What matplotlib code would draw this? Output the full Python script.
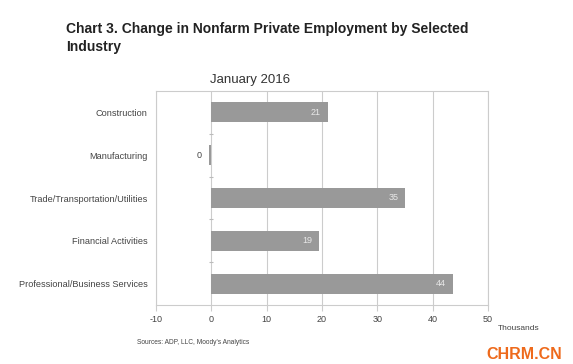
import matplotlib.pyplot as plt
import numpy as np

categories = ["Construction", "Manufacturing", "Trade/Transportation/Utilities",
              "Financial Activities", "Professional/Business Services"]
values = [21, -0.4, 35, 19.5, 43.6]
labels = ["21", "0", "35", "19", "44"]
xticks = [-10, 0, 10, 20, 30, 40, 50]

plt.rcParams['font.family'] = ['Liberation Sans', 'DejaVu Sans']

fig = plt.figure(figsize=(5.73, 3.64), dpi=100)
W, H = 573, 364
ax = fig.add_axes([156 / W, 1 - 305 / H, (488 - 156) / W, (305 - 91) / H])

y = np.arange(len(categories))
ax.barh(y, values, height=0.47, color="#999999", zorder=3)
ax.set_ylim(len(categories) - 0.5, -0.5)
ax.set_xlim(xticks[0], xticks[-1])
ax.set_xticks(xticks)
ax.set_xticklabels([str(t) for t in xticks], fontsize=6.5, color="#444444")
ax.set_yticks(y)
ax.set_yticklabels(categories, fontsize=6.6, color="#444444")
ax.tick_params(axis="y", length=0, pad=6)
ax.tick_params(axis="x", length=4, color="#cccccc", pad=3)
ax.grid(axis="x", color="#cccccc", linewidth=0.8, zorder=0)
for s in ax.spines.values():
    s.set_color("#cccccc")
    s.set_linewidth(0.8)

# category boundary ticks on the zero line
bounds = y[:-1] + 0.5
ax.scatter(np.zeros_like(bounds), bounds, marker="_", s=12, color="#bbbbbb",
           linewidths=0.8, zorder=4)

for yi, v, lab in zip(y, values, labels):
    if v > 1:
        ax.text(v - 1.2, yi, lab, ha="right", va="center", fontsize=6.5,
                color="#e8e8e8", zorder=5)
    else:
        ax.text(-1.8, yi, lab, ha="right", va="center", fontsize=6.5,
                color="#444444", zorder=5)

fig.text(66 / W, 1 - 38 / H, "Chart 3. Change in Nonfarm Private Employment by Selected\nIndustry",
         fontsize=10, fontweight="bold", color="#222222", va="center", ha="left",
         linespacing=1.45)
fig.text(250 / W, 1 - 80 / H, "January 2016", fontsize=9.5, color="#333333",
         ha="center", va="center")
fig.text(498 / W, 1 - 328 / H, "Thousands", fontsize=6, color="#444444",
         ha="left", va="center")
fig.text(137 / W, 1 - 342 / H, "Sources: ADP, LLC, Moody's Analytics", fontsize=4.8,
         color="#444444", ha="left", va="center")
fig.text(524 / W, 1 - 359 / H, "CHRM.CN", fontsize=11.5, fontweight="bold",
         color="#ee6a1c", ha="center", va="baseline")

fig.savefig("out.png", dpi=100)
